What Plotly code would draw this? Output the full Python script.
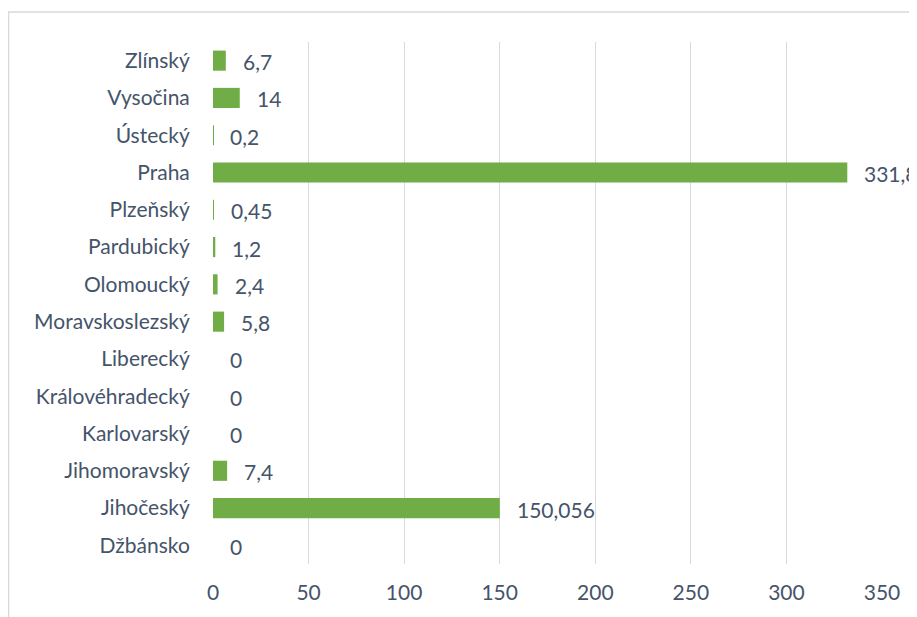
import plotly.graph_objects as go

# Regions, listed bottom to top as they appear on the axis
regions = [
    "Džbánsko", "Jihočeský", "Jihomoravský", "Karlovarský", "Královéhradecký",
    "Liberecký", "Moravskoslezský", "Olomoucký", "Pardubický", "Plzeňský",
    "Praha", "Ústecký", "Vysočina", "Zlínský",
]
values = [0, 150.056, 7.4, 0, 0, 0, 5.8, 2.4, 1.2, 0.45, 331.85, 0.2, 14, 6.7]
x_ticks = [0, 50, 100, 150, 200, 250, 300, 350]

text_color = "#44546A"
grid_color = "#D9D9D9"
font_family = "Lato, 'Open Sans', sans-serif"
font_size = 21

fig = go.Figure()

fig.add_trace(
    go.Bar(
        x=values,
        y=regions,
        orientation="h",
        width=0.54,
        marker=dict(color="#70AD47", line=dict(width=0)),
        hoverinfo="x+y",
    )
)

# Value labels with Czech decimal comma, placed just right of each bar end
labels = [f"{v:g}".replace(".", ",") for v in values]
for v, r, t in zip(values, regions, labels):
    fig.add_annotation(
        x=v, y=r, text=t, showarrow=False,
        xanchor="left", xshift=15, yshift=-1,
        font=dict(size=font_size, color=text_color, family=font_family),
    )

# Light frame around the chart area
fig.add_shape(
    type="rect", xref="paper", yref="paper",
    x0=-0.3057, x1=1.2, y0=-0.3, y1=1.0575,
    line=dict(color=grid_color, width=1.5),
)

fig.update_layout(
    width=917,
    height=617,
    margin=dict(l=205, r=43, t=34, b=61),
    paper_bgcolor="white",
    plot_bgcolor="white",
    showlegend=False,
    font=dict(family=font_family, size=font_size, color=text_color),
    xaxis=dict(
        range=[0, 350],
        tickvals=x_ticks,
        ticktext=[str(t) for t in x_ticks],
        showgrid=True,
        gridcolor=grid_color,
        gridwidth=1,
        zeroline=False,
        showline=False,
        ticks="outside",
        ticklen=10,
        tickcolor="white",
        tickfont=dict(size=font_size, color=text_color),
        fixedrange=True,
    ),
    yaxis=dict(
        categoryorder="array",
        categoryarray=regions,
        showgrid=False,
        zeroline=False,
        showline=False,
        ticks="outside",
        ticklen=18,
        tickcolor="white",
        tickfont=dict(size=font_size, color=text_color),
        fixedrange=True,
    ),
)

fig.write_html("out.html")
